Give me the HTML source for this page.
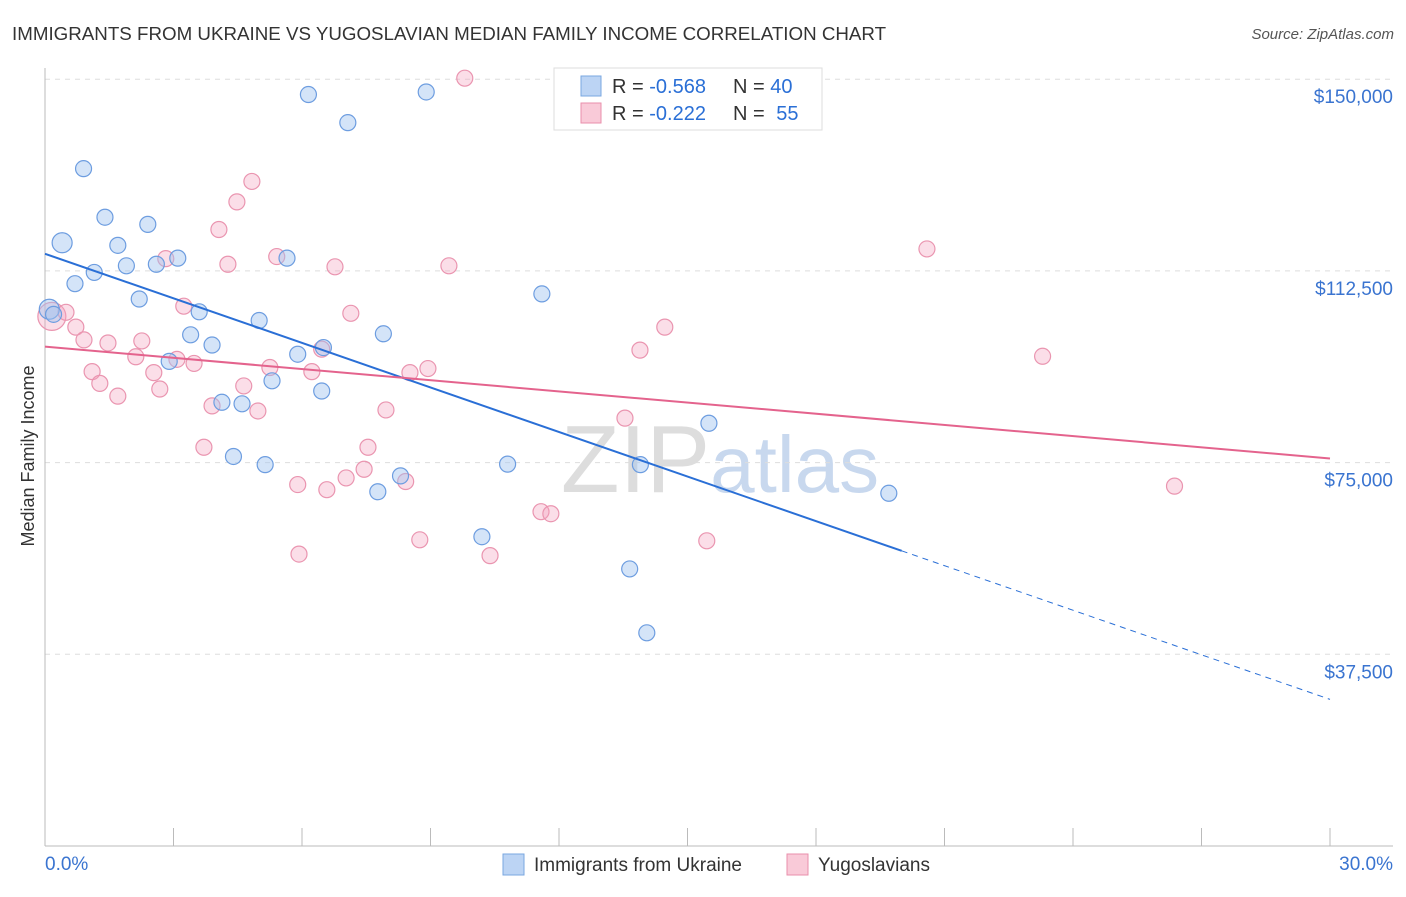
<!DOCTYPE html>
<html><head><meta charset="utf-8">
<style>
body{margin:0;background:#fff;font-family:"Liberation Sans",sans-serif;}
svg text{font-family:"Liberation Sans",sans-serif;}
</style></head>
<body>
<svg id="chart" width="1406" height="892" xmlns="http://www.w3.org/2000/svg">
<text x="12" y="40" font-size="18.75" fill="#333">IMMIGRANTS FROM UKRAINE VS YUGOSLAVIAN MEDIAN FAMILY INCOME CORRELATION CHART</text>
<text x="1394" y="39" font-size="15" fill="#555" text-anchor="end" font-style="italic">Source: ZipAtlas.com</text>
<text x="34" y="456" font-size="18" fill="#333" text-anchor="middle" transform="rotate(-90 34 456)">Median Family Income</text>
<text x="720" y="492" font-size="96" fill="#ddd" text-anchor="middle" font-family="Liberation Serif">ZIP<tspan fill="#c8d8ee" font-family="Liberation Sans" font-size="80">atlas</tspan></text>
<g id="grid"></g>
<g id="axes"></g>
<g id="marks"></g>
<g>
<rect x="554" y="68" width="268" height="62" fill="#fff" stroke="#ddd"/>
<rect x="581" y="76" width="20" height="20" fill="#bcd4f4" stroke="#7aa7e0"/>
<text x="612" y="93" font-size="20" fill="#333">R = <tspan fill="#2a6fd6">-0.568</tspan></text>
<text x="733" y="93" font-size="20" fill="#333">N = <tspan fill="#2a6fd6">40</tspan></text>
<rect x="581" y="103" width="20" height="20" fill="#f9cad8" stroke="#e98fab"/>
<text x="612" y="120" font-size="20" fill="#333">R = <tspan fill="#2a6fd6">-0.222</tspan></text>
<text x="733" y="120" font-size="20" fill="#333">N = <tspan fill="#2a6fd6" dx="6">55</tspan></text>
</g>
<g>
<rect x="503" y="854" width="21" height="21" fill="#bcd4f4" stroke="#7aa7e0"/>
<text x="534" y="871" font-size="19" fill="#333">Immigrants from Ukraine</text>
<rect x="787" y="854" width="21" height="21" fill="#f9cad8" stroke="#e98fab"/>
<text x="818" y="871" font-size="19" fill="#333">Yugoslavians</text>
</g>
</svg>
<script>
const yTicks=[37500,75000,112500,150000];
const yTickLabels=["$37,500","$75,000","$112,500","$150,000"];
const blueX=[0.9,0.4,1.4,2.4,1.7,1.15,1.9,0.7,2.6,3.1,2.2,0.1,0.2,3.4,3.6,3.9,2.9,5.0,5.65,6.15,7.07,8.9,5.9,6.5,6.46,5.3,4.6,4.13,4.4,5.14,7.9,7.77,8.3,11.6,10.8,10.2,13.65,13.9,14.05,15.5,19.7];
const blueY=[132500,118000,123000,121600,117500,112200,113500,110000,113800,115000,107000,105000,104000,100000,104500,98000,94800,102800,115000,147000,141500,147500,96200,97500,89000,91000,86500,86800,76200,74600,100200,69300,72400,108000,74700,60500,54200,74600,41700,82700,69000];
const pinkX=[9.8,4.83,4.48,4.06,5.41,4.27,6.77,9.43,2.82,0.16,0.49,0.72,0.91,1.47,2.26,3.24,7.14,2.12,3.08,3.48,2.54,1.1,1.28,1.7,2.68,5.25,6.23,4.64,4.97,3.9,6.46,8.52,8.94,7.96,3.71,7.54,7.45,7.03,5.9,6.58,8.42,5.93,8.75,10.39,11.58,11.81,13.54,13.89,14.47,15.45,20.59,23.29,26.37];
const pinkY=[150200,130000,126000,120600,115300,113800,113300,113500,114900,103600,104400,101500,99000,98400,98800,105600,104200,95700,95200,94400,92600,92800,90500,88000,89400,93600,92800,90000,85100,86100,97200,92600,93400,85300,78000,78000,73700,72000,70700,69700,71300,57100,59900,56800,65400,65000,83700,97000,101500,59700,116800,95800,70400];
const X0=45,X1=1330,Y0=846,PXPER=191.7/37500;
function xs(v){return X0+(v/30)*(X1-X0);}
function ys(v){return Y0-v*PXPER;}
const NS="http://www.w3.org/2000/svg";
function mk(t,a,p){const e=document.createElementNS(NS,t);for(const k in a)e.setAttribute(k,a[k]);p.appendChild(e);return e;}
const grid=document.getElementById('grid'),axes=document.getElementById('axes'),marks=document.getElementById('marks');
yTicks.forEach((t,i)=>{
 const l=mk('line',{x1:45,x2:1393,y1:ys(t),y2:ys(t),stroke:'#ddd','stroke-dasharray':'5,5'},grid);
 
 
 const tx=mk('text',{x:1393,y:ys(t)+24,'font-size':19,fill:'#3a74d0','text-anchor':'end'},axes);
 tx.textContent=yTickLabels[i];
 
 
});
const ax=mk('line',{x1:45,x2:1393,y1:846,y2:846,stroke:'#bbb'},axes);


const ay=mk('line',{x1:45,x2:45,y1:68,y2:846,stroke:'#bbb'},axes);


for(let i=0;i<=10;i++){const t=mk('line',{x1:xs(i*3),x2:xs(i*3),y1:828,y2:846,stroke:'#bbb'},axes);
 
 }
[["0.0%",45,"start"],["30.0%",1393,"end"]].forEach(d=>{const t=mk('text',{x:d[1],y:870,'font-size':19,fill:'#3a74d0','text-anchor':d[2]},axes);t.textContent=d[0];
 
 });
function fit(X,Y){const n=X.length;let mx=0,my=0;X.forEach((v,i)=>{mx+=v;my+=Y[i];});mx/=n;my/=n;let sxy=0,sxx=0;X.forEach((v,i)=>{sxy+=(v-mx)*(Y[i]-my);sxx+=(v-mx)*(v-mx);});const b=sxy/sxx;return [my-b*mx,b];}
const bf=fit(blueX,blueY),pf=fit(pinkX,pinkY);
pinkX.forEach((v,i)=>{const c=mk('circle',{cx:xs(v),cy:ys(pinkY[i]),r:i==9?14:8,fill:'rgba(244,160,188,0.35)',stroke:'#ea95b0','stroke-width':1.2},marks);
 
 });
blueX.forEach((v,i)=>{const c=mk('circle',{cx:xs(v),cy:ys(blueY[i]),r:(i==1||i==11)?10:8,fill:'rgba(160,195,240,0.45)',stroke:'#6d9de0','stroke-width':1.2},marks);
 
 });
const bEnd=20;
const bl=mk('line',{x1:xs(0),y1:ys(bf[0]),x2:xs(bEnd),y2:ys(bf[0]+bf[1]*bEnd),stroke:'#2a6fd6','stroke-width':2},marks);


const bd=mk('line',{x1:xs(bEnd),y1:ys(bf[0]+bf[1]*bEnd),x2:xs(30),y2:ys(bf[0]+bf[1]*30),stroke:'#2a6fd6','stroke-width':1,'stroke-dasharray':'6,5'},marks);


const pl=mk('line',{x1:xs(0),y1:ys(pf[0]),x2:xs(30),y2:ys(pf[0]+pf[1]*30),stroke:'#e4638d','stroke-width':2},marks);


</script>
</body></html>
